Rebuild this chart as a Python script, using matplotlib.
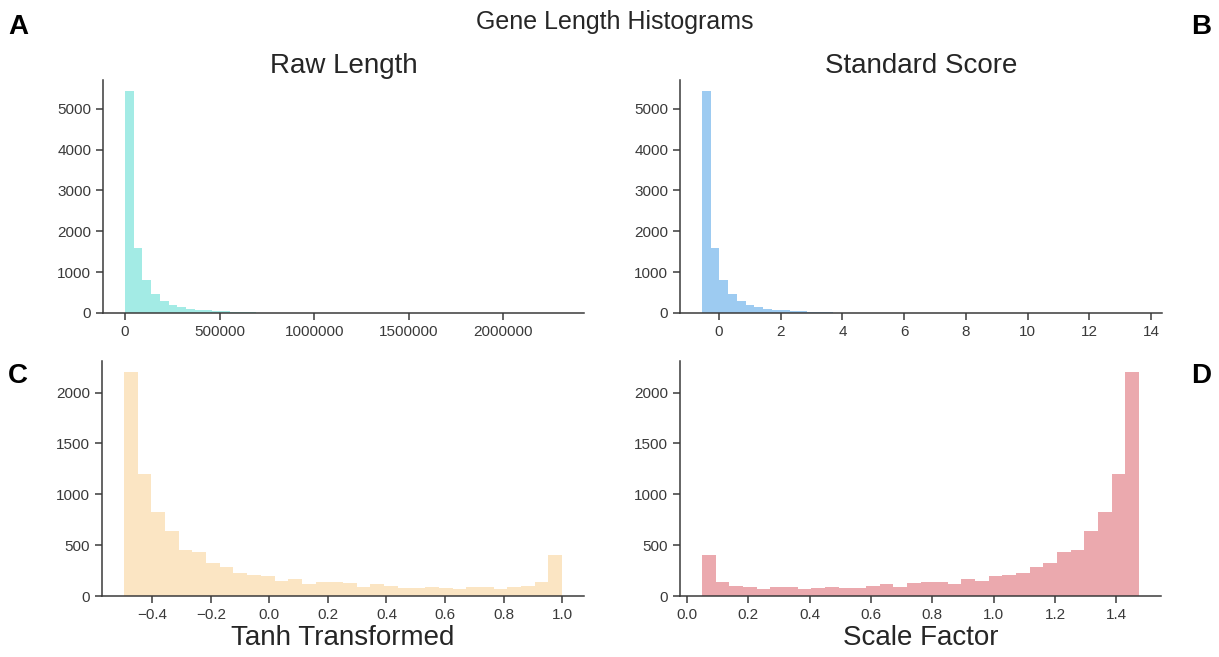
import numpy as np
import matplotlib
matplotlib.use("Agg")
import matplotlib.pyplot as plt
import seaborn as sns

# ---------------- data ----------------
raw_range = (0, 2310000)            # gene length range (bp)
std_range = (-0.55, 13.64)          # z-score range
tanh_range = (-0.497, 1.0)
scale_range = (0.049, 1.474)

# 50-bin histogram counts of gene length (same shape raw / standardized)
length_counts = [5430, 1600, 805, 470, 290, 185, 135, 105, 85, 68,
                 50, 38, 30, 22, 16, 12, 9, 7, 5, 4,
                 3, 3, 2, 2, 2, 1, 1, 1, 1, 1,
                 0, 1, 0, 0, 1, 0, 0, 0, 0, 0,
                 1, 0, 0, 0, 0, 0, 0, 0, 0, 1]

# 32-bin histogram counts of tanh-transformed length
tanh_counts = [2200, 1202, 824, 637, 453, 430, 328, 282, 223, 210,
               200, 148, 167, 121, 141, 135, 125, 89, 118, 98,
               79, 79, 89, 79, 72, 85, 85, 66, 89, 95,
               141, 400]

# 32-bin histogram counts of the scale factor
scale_counts = [400, 141, 95, 89, 66, 85, 85, 72, 79, 89,
                79, 79, 98, 118, 89, 125, 135, 141, 121, 167,
                148, 200, 210, 223, 282, 328, 430, 453, 637, 824,
                1202, 2200]

titles = ["Raw Length", "Standard Score"]
xlabels = ["Tanh Transformed", "Scale Factor"]
panel_letters = ["A", "B", "C", "D"]
suptitle = "Gene Length Histograms"

colors = ["#a3ebe5", "#9dcbf1", "#fbe5c3", "#eba9ae"]

# ---------------- style ----------------
sns.set_style("ticks")
plt.rcParams["font.family"] = ["Liberation Sans", "DejaVu Sans"]
plt.rcParams["axes.edgecolor"] = "#3a3a3a"
plt.rcParams["xtick.color"] = "#3a3a3a"
plt.rcParams["ytick.color"] = "#3a3a3a"
plt.rcParams["text.color"] = "#262626"

W, H = 1219, 657
fig = plt.figure(figsize=(W / 100, H / 100), dpi=100)


def px_axes(x0, x1, y0, y1):
    return fig.add_axes([x0 / W, (H - y1) / H, (x1 - x0) / W, (y1 - y0) / H])


axA = px_axes(103, 584, 80, 313)
axB = px_axes(680, 1162, 80, 313)
axC = px_axes(102, 584, 361, 596)
axD = px_axes(680, 1161, 361, 596)


def draw_hist(ax, counts, rng, color):
    counts = np.asarray(counts, dtype=float)
    edges = np.linspace(rng[0], rng[1], len(counts) + 1)
    centers = 0.5 * (edges[:-1] + edges[1:])
    ax.hist(centers, bins=edges, weights=counts, color=color, linewidth=0)


draw_hist(axA, length_counts, raw_range, colors[0])
draw_hist(axB, length_counts, std_range, colors[1])
draw_hist(axC, tanh_counts, tanh_range, colors[2])
draw_hist(axD, scale_counts, scale_range, colors[3])

for ax in (axA, axB, axC, axD):
    sns.despine(ax=ax)
    ax.tick_params(labelsize=11, length=5, width=1.1)
    for s in ("left", "bottom"):
        ax.spines[s].set_linewidth(1.1)

axA.set_xticks([0, 500000, 1000000, 1500000, 2000000])
axA.set_xticklabels(["0", "500000", "1000000", "1500000", "2000000"])
axB.set_xticks([0, 2, 4, 6, 8, 10, 12, 14])
axC.set_yticks([0, 500, 1000, 1500, 2000])
axD.set_yticks([0, 500, 1000, 1500, 2000])

axA.set_title(titles[0], fontsize=20, pad=5)
axB.set_title(titles[1], fontsize=20, pad=5)
axC.set_xlabel(xlabels[0], fontsize=20, labelpad=2)
axD.set_xlabel(xlabels[1], fontsize=20, labelpad=2)

fig.text(615 / W, 1 - 22 / H, suptitle, ha="center", va="center", fontsize=18)

letter_pos = [(18, 27), (1201, 27), (18, 376), (1201, 376)]
for lt, (x, y) in zip(panel_letters, letter_pos):
    fig.text(x / W, 1 - y / H, lt, ha="center", va="center",
             fontsize=20, fontweight="bold", color="black")

fig.savefig("out.png", dpi=100)
